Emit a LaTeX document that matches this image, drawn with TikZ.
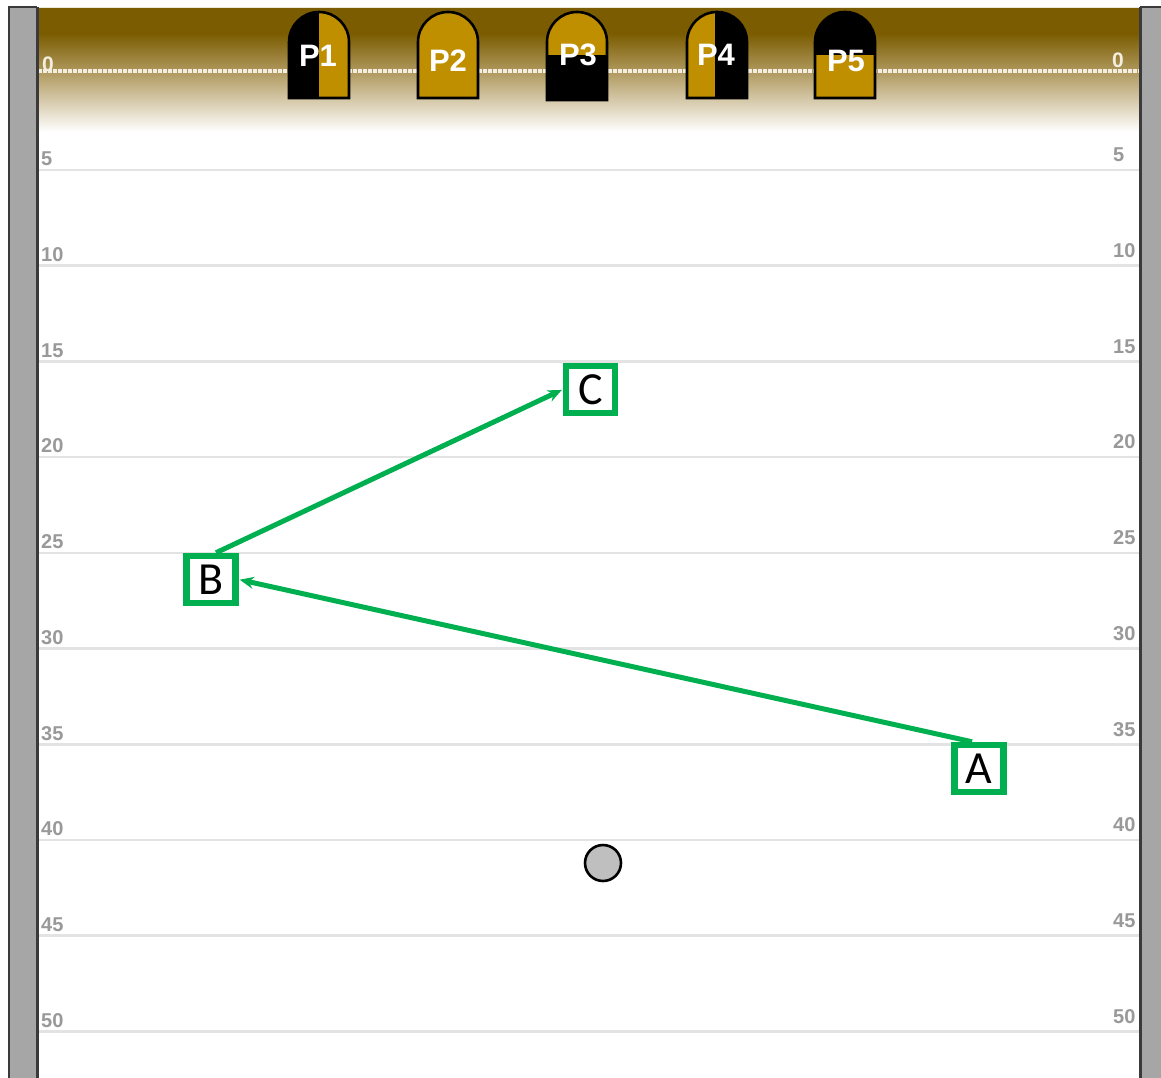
\documentclass[tikz,border=0pt]{standalone}
\usepackage{fontspec}
\setmainfont{Carlito}
\newfontfamily\arialf{Liberation Sans}
\usetikzlibrary{arrows.meta}
\definecolor{brownTop}{HTML}{7B5C00}
\definecolor{brownMid}{HTML}{B8A36E}
\definecolor{gold}{HTML}{BF8F00}
\definecolor{gboxc}{HTML}{00B050}
\definecolor{barGray}{HTML}{A6A6A6}
\definecolor{barDark}{HTML}{3A3A3A}
\definecolor{lineGray}{HTML}{E3E3E3}
\definecolor{labGray}{HTML}{999999}
\definecolor{zeroLab}{HTML}{F4EEE0}
\definecolor{ballGray}{HTML}{BFBFBF}
\tikzset{
  gbox/.style={draw=gboxc, line width=6.5pt, minimum width=49pt, minimum height=47pt, inner sep=0pt, fill=white, font=\fontsize{46}{46}\selectfont},
  garrow/.style={draw=gboxc, line width=5pt, -{Stealth[length=14pt,width=12pt]}, shorten >=1pt},
  ydlab/.style={anchor=west, inner sep=0pt, text=labGray, font=\arialf\bfseries\fontsize{20}{20}\selectfont},
  zlab/.style={anchor=west, inner sep=0pt, text=zeroLab, font=\arialf\bfseries\fontsize{21}{21}\selectfont},
  plab/.style={inner sep=0pt, text=white, font=\arialf\bfseries\fontsize{31}{31}\selectfont},
  archline/.style={draw=black, line width=2.6pt},
}
\begin{document}
\begin{tikzpicture}[x=1pt,y=-1pt]
\useasboundingbox (0,0) rectangle (1161,1078);
\fill[white] (0,0) rectangle (1161,1078);
% top gradient band
\fill[brownTop] (38,8) rectangle (1139,34);
\shade[top color=brownTop, bottom color=brownMid] (38,33.5) rectangle (1139,78);
\shade[top color=brownMid, bottom color=white] (38,77.5) rectangle (1139,132);
\draw[white!85!brownTop, line width=1.5pt] (38,7.5) -- (1139,7.5);
% zero dotted line
\draw[zeroLab, line width=3.5pt, dash pattern=on 3.5pt off 1.5pt] (38,71) -- (1139,71);
\node[zlab] (z0l) at (42,64) {0};
\node[zlab] (z0r) at (1112,60) {0};
% yard lines and labels
\foreach \k in {1,...,10}{
  \pgfmathsetmacro\yy{74.3+95.7*\k}
  \pgfmathtruncatemacro\lab{5*\k}
  \draw[lineGray, line width=2.6pt] (38,\yy) -- (1139,\yy);
  \node[ydlab] (ll\k) at (41,\yy-11) {\lab};
  \node[ydlab] (rl\k) at (1113,\yy-15) {\lab};
}
% side bars
\fill[barGray] (8,7) rectangle (38,1080);
\draw[barDark, line width=2pt] (8.5,1080) -- (8.5,7) -- (37,7);
\draw[barDark, line width=3pt] (37,7) -- (37,1080);
\fill[barGray] (1140,7) rectangle (1161,1080);
\draw[barDark, line width=1.5pt] (1140,7) -- (1161,7);
\draw[barDark, line width=3pt] (1140.5,7) -- (1140.5,1080);
% players
% P1: left black, right gold
\begin{scope}
\clip (289,98) -- (289,42) arc[start angle=180,end angle=360,radius=30] -- (349,98) -- cycle;
\fill[black] (285,5) rectangle (319,102);
\fill[gold] (319,5) rectangle (353,102);
\end{scope}
\draw[archline] (289,98) -- (289,42) arc[start angle=180,end angle=360,radius=30] -- (349,98) -- cycle;
\node[plab] (p1) at (318,56) {P1};
% P2: gold
\filldraw[archline, fill=gold] (418,98) -- (418,42) arc[start angle=180,end angle=360,radius=30] -- (478,98) -- cycle;
\node[plab] (p2) at (448,61) {P2};
% P3: top gold, bottom black
\begin{scope}
\clip (547,100) -- (547,42) arc[start angle=180,end angle=360,radius=30] -- (607,100) -- cycle;
\fill[gold] (543,5) rectangle (611,55);
\fill[black] (543,55) rectangle (611,104);
\end{scope}
\draw[archline] (547,100) -- (547,42) arc[start angle=180,end angle=360,radius=30] -- (607,100) -- cycle;
\node[plab] (p3) at (578,55) {P3};
% P4: left gold, right black
\begin{scope}
\clip (687,98) -- (687,42) arc[start angle=180,end angle=360,radius=30] -- (747,98) -- cycle;
\fill[gold] (683,5) rectangle (715,102);
\fill[black] (715,5) rectangle (751,102);
\end{scope}
\draw[archline] (687,98) -- (687,42) arc[start angle=180,end angle=360,radius=30] -- (747,98) -- cycle;
\node[plab] (p4) at (716,55) {P4};
% P5: top black, bottom gold
\begin{scope}
\clip (815,98) -- (815,42) arc[start angle=180,end angle=360,radius=30] -- (875,98) -- cycle;
\fill[black] (811,5) rectangle (879,55);
\fill[gold] (811,55) rectangle (879,102);
\end{scope}
\draw[archline] (815,98) -- (815,42) arc[start angle=180,end angle=360,radius=30] -- (875,98) -- cycle;
\node[plab] (p5) at (846,61) {P5};
% ball
\node[circle, draw=black, line width=2.6pt, fill=ballGray, minimum size=36pt, inner sep=0pt] (ball) at (603,863) {};
% route boxes
\node[gbox] (A) at (979,768.5) {A};
\node[gbox] (B) at (211,579.5) {B};
\node[gbox] (C) at (590.5,389.5) {C};
% connectors
\draw[garrow] ([xshift=-7pt]A.north) -- (B.east);
\draw[garrow] ([xshift=5pt]B.north) -- (C.west);
\end{tikzpicture}
\end{document}
